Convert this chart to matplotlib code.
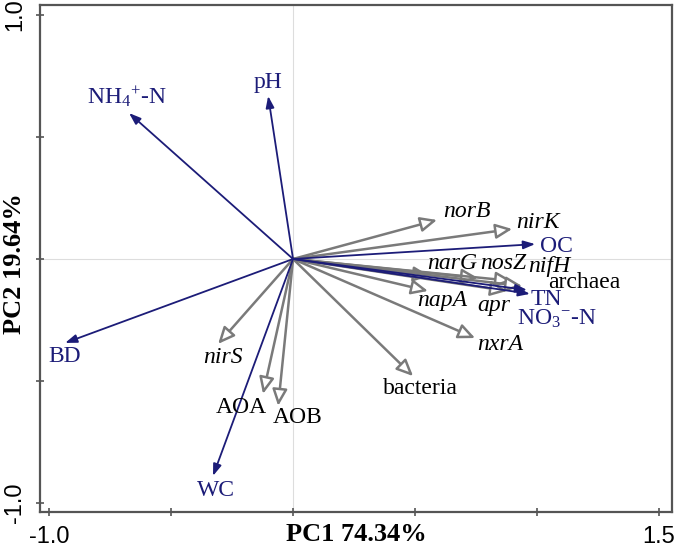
import matplotlib
matplotlib.use("Agg")
import matplotlib.pyplot as plt
from matplotlib.ticker import FixedLocator, FixedFormatter

plt.rcParams["mathtext.fontset"] = "custom"
plt.rcParams["mathtext.rm"] = "Liberation Serif"
plt.rcParams["mathtext.it"] = "Liberation Serif:italic"

# environmental factors (navy arrows)
env_names = ["NH$_4$$^{+}$-N", "pH", "BD", "WC", "OC", "TN", "NO$_3$$^{-}$-N"]
env_x = [-0.672, -0.102, -0.934, -0.328, 0.992, 0.971, 0.959]
env_y = [0.598, 0.668, -0.344, -0.889, 0.061, -0.143, -0.127]

# genes / groups (grey arrows)
sp_names = ["norB", "nirK", "narG", "nosZ", "nifH", "archaea", "apr", "napA",
            "nxrA", "bacteria", "nirS", "AOA", "AOB"]
sp_x = [0.590, 0.898, 0.561, 0.758, 0.898, 0.939, 0.877, 0.553,
        0.746, 0.492, -0.307, -0.123, -0.061]
sp_y = [0.160, 0.123, -0.070, -0.078, -0.090, -0.111, -0.131, -0.131,
        -0.324, -0.480, -0.348, -0.553, -0.602]
sp_italic = [True, True, True, True, True, False, True, True,
             True, False, True, False, False]

# label offsets from arrow tips (pixels)
env_off = [(-2, 16), (0, 14), (0, -14), (3, -15), (21, -2), (16, -6), (30, -29)]
sp_off = [(30, 8), (26, 6), (22, 13), (25, 15), (37, 14), (62, 4), (-13, -15),
          (14, -10), (25, -6), (7, -12), (5, -14), (-22, -14), (19, -12)]

navy = "#1c1c78"
grey = "#7a7a7a"
serif = "Liberation Serif"
sans = "Liberation Sans"

fig = plt.figure(figsize=(6.75, 5.52), dpi=100)
ax = fig.add_axes([40 / 675, 40 / 552, 632 / 675, 507 / 552])
ax.set_xlim(-1.037, 1.553)
ax.set_ylim(-1.037, 1.041)

ax.axhline(0, color="#dddddd", lw=0.8, zorder=0)
ax.axvline(0, color="#dddddd", lw=0.8, zorder=0)

for name, x, y, it, off in zip(sp_names, sp_x, sp_y, sp_italic, sp_off):
    ax.annotate("", xy=(x, y), xytext=(0, 0),
                arrowprops=dict(arrowstyle="-|>,head_length=1.0,head_width=0.45",
                                fc="white", ec=grey, lw=1.8,
                                shrinkA=0, shrinkB=0), zorder=2)
    ax.annotate(name, xy=(x, y), xytext=off, textcoords="offset pixels",
                ha="center", va="center", fontsize=17, family=serif,
                style="italic" if it else "normal", color="black", zorder=4)

for name, x, y, off in zip(env_names, env_x, env_y, env_off):
    ax.annotate("", xy=(x, y), xytext=(0, 0),
                arrowprops=dict(arrowstyle="-|>,head_length=0.7,head_width=0.25",
                                fc=navy, ec=navy, lw=1.3,
                                shrinkA=0, shrinkB=0), zorder=3)
    ax.annotate(name, xy=(x, y), xytext=off, textcoords="offset pixels",
                ha="center", va="center", fontsize=17, family=serif,
                color=navy, zorder=4)

for s in ax.spines.values():
    s.set_color("#555555")
    s.set_linewidth(1.6)

ax.xaxis.set_major_locator(FixedLocator([-1.0, -0.5, 0.0, 0.5, 1.0, 1.5]))
ax.xaxis.set_major_formatter(FixedFormatter(["-1.0", "", "", "", "", "1.5"]))
ax.yaxis.set_major_locator(FixedLocator([-1.0, -0.5, 0.0, 0.5, 1.0]))
ax.yaxis.set_major_formatter(FixedFormatter(["-1.0", "", "", "", "1.0"]))
ax.tick_params(direction="inout", length=6, width=1.2, color="#555555",
               labelsize=17, pad=7)
for lab in ax.get_xticklabels() + ax.get_yticklabels():
    lab.set_family(sans)
for lab in ax.get_yticklabels():
    lab.set_rotation(90)
    lab.set_va("center")

ax.text(0.5, -0.045, "PC1 74.34%", transform=ax.transAxes, ha="center",
        va="center", fontsize=19, fontweight="bold", family=serif)
ax.text(-0.04, 0.49, "PC2 19.64%", transform=ax.transAxes, ha="center",
        va="center", rotation=90, fontsize=19, fontweight="bold", family=serif)

fig.savefig("out.png", dpi=100)
